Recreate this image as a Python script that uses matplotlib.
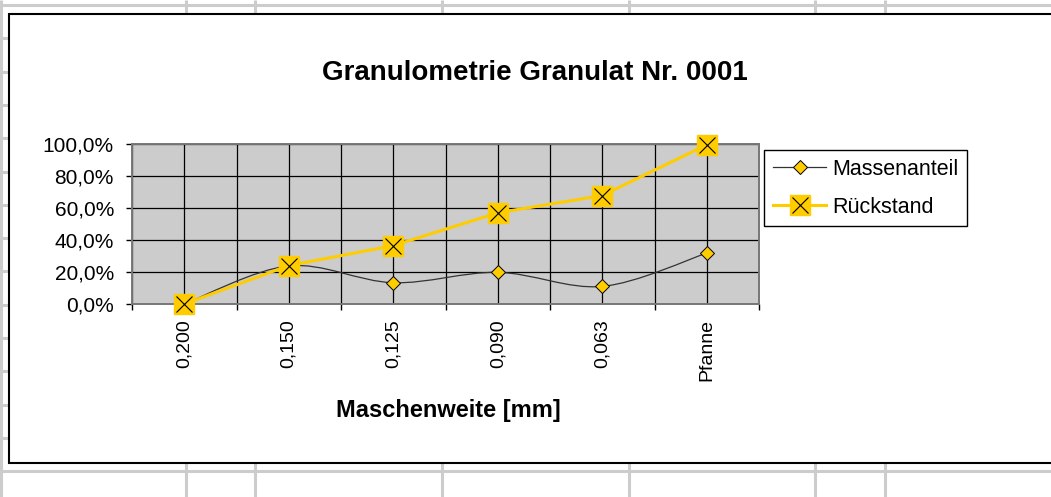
import numpy as np
import matplotlib
matplotlib.use("Agg")
import matplotlib.pyplot as plt
from matplotlib.path import Path
from matplotlib.patches import PathPatch, Rectangle
from matplotlib.lines import Line2D

plt.rcParams['font.family'] = ['Liberation Sans', 'DejaVu Sans']

# data
categories = ['0,200', '0,150', '0,125', '0,090', '0,063', 'Pfanne']
massenanteil = [0.0, 23.8, 13.3, 19.8, 11.0, 31.8]
rueckstand = [0.0, 24.0, 36.5, 57.0, 67.8, 99.5]
yticks = [0, 20, 40, 60, 80, 100]
ytick_labels = ['0,0%', '20,0%', '40,0%', '60,0%', '80,0%', '100,0%']

W, H = 1051, 497
YELLOW = '#FFCC00'

fig = plt.figure(figsize=(W / 100, H / 100), dpi=100)

# spreadsheet in the background (pixel coordinates)
bg = fig.add_axes([0, 0, 1, 1])
bg.set_xlim(0, W)
bg.set_ylim(H, 0)
bg.axis('off')
grid_col = '#cccccc'
for x in [1, 186, 255, 441.5, 628.5, 815, 884.5]:
    bg.plot([x, x], [0, H], color=grid_col, lw=2.2, solid_capstyle='butt')
for k in range(15):
    y = 5 + 33.3 * k
    bg.plot([0, W], [y, y], color=grid_col, lw=2.2, solid_capstyle='butt')
bg.add_patch(Rectangle((9, 13.5), W + 20, 449.5, facecolor='white',
                       edgecolor='black', lw=1.5, zorder=3))

# plot area
ax = fig.add_axes([132 / W, 1 - 304 / H, (759 - 132) / W, (304 - 144) / H])
ax.set_facecolor('#cccccc')
n = len(categories)
x = np.arange(n)
ax.set_xlim(-0.5, n - 0.5)
ax.set_ylim(0, 100)

ax.set_xticks(np.arange(-0.5, n, 1.0))
ax.set_xticklabels([])
ax.set_xticks(x, minor=True)
ax.set_xticklabels(categories, minor=True, rotation=90, va='top', ha='center',
                   fontsize=14)
ax.tick_params(axis='x', which='major', length=4, width=1, color='black',
               direction='out')
ax.tick_params(axis='x', which='minor', length=0, pad=11)
ax.set_yticks(yticks)
ax.set_yticklabels(ytick_labels, fontsize=15)
ax.tick_params(axis='y', length=4, width=1, color='black', pad=9)
ax.grid(True, which='both', axis='x', color='black', lw=0.9)
ax.grid(True, which='major', axis='y', color='black', lw=0.9)
ax.set_axisbelow(True)
for s in ax.spines.values():
    s.set_color('#777777')
    s.set_linewidth(1.4)

# Massenanteil as smoothed line (Excel style Bezier through the points)
pts = np.column_stack([x, massenanteil]).astype(float)
ext = np.vstack([pts[0], pts, pts[-1]])
verts = [tuple(pts[0])]
codes = [Path.MOVETO]
for i in range(n - 1):
    p0, p1, p2, p3 = ext[i], ext[i + 1], ext[i + 2], ext[i + 3]
    c1 = p1 + (p2 - p0) / 6
    c2 = p2 - (p3 - p1) / 6
    verts += [tuple(c1), tuple(c2), tuple(p2)]
    codes += [Path.CURVE4] * 3
ax.add_patch(PathPatch(Path(verts, codes), fill=False, edgecolor='#333333',
                       lw=0.9, zorder=3))
ax.plot(x, massenanteil, ls='none', marker='D', ms=7, mfc=YELLOW,
        mec='black', mew=0.7, zorder=4, clip_on=False)

# Rückstand
ax.plot(x, rueckstand, color=YELLOW, lw=2.2, zorder=5, clip_on=False)
ax.plot(x, rueckstand, ls='none', marker='s', ms=14, mfc=YELLOW, mec=YELLOW,
        zorder=6, clip_on=False)
ax.plot(x, rueckstand, ls='none', marker='x', ms=11, mec='black', mew=0.8,
        zorder=7, clip_on=False)

# texts
fig.text(535 / W, 1 - 73 / H, 'Granulometrie Granulat Nr. 0001', fontsize=20,
         fontweight='bold', ha='center', va='center')
fig.text(448 / W, 1 - 410 / H, 'Maschenweite [mm]', fontsize=17,
         fontweight='bold', ha='center', va='center')

# legend
h1 = Line2D([], [], color='#333333', lw=0.9, marker='D', ms=7, mfc=YELLOW,
            mec='black', mew=0.7)
h2a = Line2D([], [], color=YELLOW, lw=2.2, marker='s', ms=14, mfc=YELLOW,
             mec=YELLOW)
h2b = Line2D([], [], ls='none', marker='x', ms=11, mec='black', mew=0.8)
leg = fig.legend([h1, (h2a, h2b)], ['Massenanteil', 'Rückstand'],
                 loc='upper left', bbox_to_anchor=(764 / W, 1 - 150 / H),
                 fontsize=15.5, handlelength=2.5, handletextpad=0.25,
                 labelspacing=0.8, borderpad=0.4, borderaxespad=0,
                 fancybox=False, framealpha=1, edgecolor='black')
leg.get_frame().set_linewidth(1.0)

fig.savefig('out.png', dpi=100)
